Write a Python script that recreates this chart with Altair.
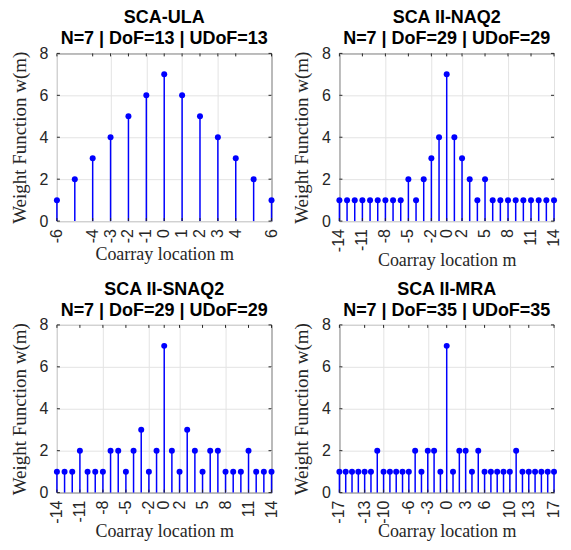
import altair as alt
import pandas as pd

# ---- data ----
m_ula = list(range(-6, 7))
w_ula = [1, 2, 3, 4, 5, 6, 7, 6, 5, 4, 3, 2, 1]
ticks_ula = [-6, -4, -3, -2, -1, 0, 1, 2, 3, 4, 6]

m_naq2 = list(range(-14, 15))
w_naq2 = [1, 1, 1, 1, 1, 1, 1, 1, 1, 2, 1, 2, 3, 4, 7, 4, 3, 2, 1, 2, 1, 1, 1, 1, 1, 1, 1, 1, 1]
ticks_naq2 = [-14, -11, -8, -5, -2, 0, 2, 5, 8, 11, 14]

m_snaq2 = list(range(-14, 15))
w_snaq2 = [1, 1, 1, 2, 1, 1, 1, 2, 2, 1, 2, 3, 1, 2, 7, 2, 1, 3, 2, 1, 2, 2, 1, 1, 1, 2, 1, 1, 1]
ticks_snaq2 = [-14, -11, -8, -5, -2, 0, 2, 5, 8, 11, 14]

m_mra = list(range(-17, 18))
w_mra = [1, 1, 1, 1, 1, 1, 2, 1, 1, 1, 1, 1, 2, 1, 2, 2, 1, 7,
         1, 2, 2, 1, 2, 1, 1, 1, 1, 1, 2, 1, 1, 1, 1, 1, 1]
ticks_mra = [-17, -13, -10, -6, -3, 0, 3, 6, 10, 13, 17]

y_ticks = [0, 2, 4, 6, 8]

titles = [
    ["SCA-ULA", "N=7 | DoF=13 | UDoF=13"],
    ["SCA II-NAQ2", "N=7 | DoF=29 | UDoF=29"],
    ["SCA II-SNAQ2", "N=7 | DoF=29 | UDoF=29"],
    ["SCA II-MRA", "N=7 | DoF=35 | UDoF=35"],
]

W, H = 215, 168
BLUE = "#0000ff"
AXC = "#262626"
TICK = 3  # inward tick length in px


def panel(m, w, ticks, title, tpad):
    df = pd.DataFrame({"m": m, "w": w})
    lo, hi = min(m), max(m)
    xs = alt.Scale(domain=[lo, hi], nice=False, zero=False)
    ys = alt.Scale(domain=[0, 8], nice=False)
    xax = alt.Axis(values=ticks, labels=False, title="Coarray location m",
                   grid=True, ticks=False, domain=False,
                   titlePadding=tpad,
                   titleFont="Liberation Serif", titleFontSize=18,
                   titleFontWeight="normal", titleColor=AXC,
                   gridColor="#e3e3e3", gridWidth=1)
    yax = alt.Axis(values=y_ticks, title="Weight Function w(m)",
                   grid=True, ticks=False, domain=False, labelPadding=9,
                   titlePadding=10, labelOverlap=False,
                   labelFont="Liberation Sans", labelFontSize=16, labelColor=AXC,
                   titleFont="Liberation Serif", titleFontSize=19,
                   titleFontWeight="normal", titleColor=AXC,
                   gridColor="#e3e3e3", gridWidth=1)
    X = alt.X("m:Q", scale=xs, axis=xax)
    Y = alt.Y("w:Q", scale=ys, axis=yax)
    base = alt.Chart(df).encode(x=X, y=Y)
    stems = base.mark_rule(color=BLUE, strokeWidth=1.5).encode(y2=alt.datum(0))
    dots = base.mark_point(filled=True, color=BLUE, size=36, opacity=1)

    # inward ticks on the box
    dy = 8 * TICK / H
    dx = (hi - lo) * TICK / W
    xt = pd.DataFrame({"m": ticks, "lab": [str(t) for t in ticks]})
    yt = pd.DataFrame({"w": y_ticks})
    xb = alt.Chart(xt).mark_rule(color=AXC, strokeWidth=1).encode(
        x=X, y=alt.datum(0, scale=ys), y2=alt.datum(dy))
    xtop = alt.Chart(xt).mark_rule(color=AXC, strokeWidth=1).encode(
        x=X, y=alt.datum(8 - dy, scale=ys), y2=alt.datum(8))
    yl = alt.Chart(yt).mark_rule(color=AXC, strokeWidth=1).encode(
        y=Y, x=alt.datum(lo, scale=xs), x2=alt.datum(lo + dx))
    yr = alt.Chart(yt).mark_rule(color=AXC, strokeWidth=1).encode(
        y=Y, x=alt.datum(hi - dx, scale=xs), x2=alt.datum(hi))
    # rotated x tick labels
    xl = alt.Chart(xt).mark_text(
        angle=270, align="right", baseline="middle", dx=-8,
        font="Liberation Sans", fontSize=16, color=AXC,
    ).encode(x=X, y=alt.datum(0, scale=ys), text="lab:N")

    return alt.layer(stems, dots, xb, xtop, yl, yr, xl).properties(
        width=W, height=H,
        title=alt.TitleParams(text=title, anchor="middle", frame="group",
                              font="Liberation Sans", fontSize=18,
                              fontWeight="bold", color="black",
                              lineHeight=21, offset=-3),
    )


p1 = panel(m_ula, w_ula, ticks_ula, titles[0], 24)
p2 = panel(m_naq2, w_naq2, ticks_naq2, titles[1], 30)
p3 = panel(m_snaq2, w_snaq2, ticks_snaq2, titles[2], 30)
p4 = panel(m_mra, w_mra, ticks_mra, titles[3], 30)

chart = alt.concat(
    p1, p2, p3, p4, columns=2,
    spacing=alt.RowColnumber(row=104, column=68),
    bounds="flush",
).properties(
    padding={"left": 1, "top": 0, "right": 0, "bottom": 0},
    background="white",
).configure_view(
    stroke=AXC, strokeWidth=1
)

chart.save("out.html", embed_options={"renderer": "svg", "actions": False})
